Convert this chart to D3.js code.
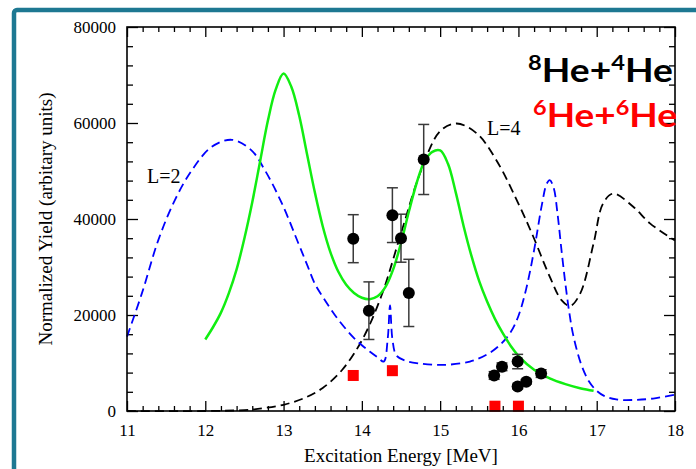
<!DOCTYPE html>
<html>
<head>
<meta charset="utf-8">
<script src="https://cdn.jsdelivr.net/npm/d3@7"></script>
<style>
  html, body { margin: 0; padding: 0; background: #fff; }
  svg { display: block; }
</style>
</head>
<body>
<svg id="chart" width="696" height="469"></svg>
<script>
// Excitation energy ticks (MeV) and yield ticks
const xTicks = [11, 12, 13, 14, 15, 16, 17, 18];
const yTicks = [0, 20000, 40000, 60000, 80000];

// Green solid fit: [energy, yield]
const fitCurve = [
  [12.0, 14900], [12.1, 17500], [12.2, 20500], [12.3, 24500], [12.4, 29500],
  [12.5, 36000], [12.6, 43500], [12.7, 52000], [12.8, 60500], [12.9, 67000],
  [13.0, 70300], [13.1, 67500], [13.2, 61500], [13.3, 53500], [13.4, 45500],
  [13.5, 38500], [13.6, 33000], [13.7, 29000], [13.8, 26300], [13.9, 24600],
  [14.0, 23600], [14.1, 23300], [14.2, 23900], [14.3, 25800], [14.4, 29500],
  [14.5, 35000], [14.6, 41500], [14.7, 47500], [14.8, 52000], [14.9, 54000],
  [15.0, 54300], [15.1, 51500], [15.2, 45500], [15.3, 38500], [15.4, 32300],
  [15.5, 27000], [15.6, 22800], [15.7, 19200], [15.8, 16200], [15.9, 13600],
  [16.0, 11500], [16.2, 8600], [16.4, 6800], [16.6, 5600], [16.8, 4700],
  [16.96, 4200]
];

// Blue dashed L=2 calculation
const l2Curve = [
  [11.00, 15500], [11.19, 24500], [11.40, 35600], [11.61, 43900], [11.83, 50200],
  [12.08, 55000], [12.34, 56500], [12.59, 54300], [12.76, 50200], [12.98, 43200],
  [13.19, 34900], [13.30, 30500], [13.40, 26500], [13.50, 23800], [13.60, 21300],
  [13.70, 19000], [13.80, 17000], [13.90, 15200], [14.00, 13700], [14.10, 12400],
  [14.20, 11200], [14.28, 10300], [14.33, 15000], [14.36, 22000], [14.39, 15000],
  [14.44, 11600], [14.55, 10500], [14.74, 9900], [15.04, 9600], [15.38, 10300],
  [15.60, 11800], [15.76, 13700], [15.90, 16400], [16.00, 19800], [16.10, 25500],
  [16.20, 33500], [16.30, 43000], [16.36, 47300], [16.40, 48100], [16.45, 46500],
  [16.50, 41000], [16.55, 33500], [16.60, 26500], [16.65, 20500], [16.70, 15800],
  [16.80, 9800], [16.90, 6200], [17.00, 4200], [17.10, 3100], [17.25, 2400],
  [17.47, 2300], [17.72, 2600], [18.00, 3400]
];

// Black dashed L=4 calculation
const l4Curve = [
  [11.00, 0], [12.00, 0], [12.50, 200], [12.75, 600], [13.00, 1300],
  [13.25, 2600], [13.50, 4800], [13.75, 8600], [14.00, 14700], [14.25, 24000],
  [14.50, 37000], [14.75, 49800], [15.00, 58300], [15.21, 59900], [15.47, 57800],
  [15.72, 52200], [16.02, 42500], [16.19, 36300], [16.40, 28000], [16.55, 23100],
  [16.66, 21900], [16.79, 24500], [16.96, 34900], [17.08, 43200], [17.21, 45300],
  [17.47, 42500], [17.68, 39100], [18.00, 35500]
];

// 8He+4He measured yields: [energy, yield, error]
const he8Points = [
  [13.89, 35900, 5000], [14.09, 20900, 6000], [14.39, 40800, 5700],
  [14.50, 36000, 5000], [14.60, 24600, 7000], [14.79, 52400, 7300],
  [15.69, 7400, 800], [15.79, 9200, 800], [15.99, 10300, 1500],
  [15.99, 5100, 500], [16.10, 6100, 500], [16.29, 7800, 800]
];

// 6He+6He measured yields: [energy, yield]
const he6Points = [
  [13.89, 7400], [14.39, 8400], [15.70, 1000], [16.00, 1000]
];

const svg = d3.select("#chart");
const plotL = 127, plotR = 675, plotT = 27, plotB = 411;

const x = d3.scaleLinear().domain([11, 18]).range([plotL, plotR]);
const y = d3.scaleLinear().domain([0, 80000]).range([plotB, plotT]);

// outer slide frame
svg.append("rect")
  .attr("x", 14).attr("y", 10)
  .attr("width", 720).attr("height", 500)
  .attr("rx", 3)
  .attr("fill", "none")
  .attr("stroke", "#1d7892")
  .attr("stroke-width", 4.5);

const serif = "'Liberation Serif', 'Times New Roman', serif";

const minorX = d3.range(11, 18.001, 0.2).map(v => +v.toFixed(1)).filter(v => !xTicks.includes(v));
const minorY = d3.range(0, 80001, 4000).filter(v => !yTicks.includes(v));

function styleAxis(g) {
  g.select(".domain").remove();
  g.selectAll(".tick line").attr("stroke", "#000").attr("stroke-width", 1.3);
  g.selectAll(".tick text")
    .attr("font-family", serif)
    .attr("font-size", 17)
    .attr("fill", "#000");
}

// bottom axis
svg.append("g").attr("transform", `translate(0,${plotB})`)
  .call(d3.axisBottom(x).tickValues(xTicks).tickSizeInner(-10).tickSizeOuter(0).tickPadding(13).tickFormat(d3.format("d")))
  .call(styleAxis);
svg.append("g").attr("transform", `translate(0,${plotB})`)
  .call(d3.axisBottom(x).tickValues(minorX).tickSizeInner(-5).tickSizeOuter(0).tickFormat(""))
  .call(styleAxis);
// top axis
svg.append("g").attr("transform", `translate(0,${plotT})`)
  .call(d3.axisTop(x).tickValues(xTicks).tickSizeInner(-10).tickSizeOuter(0).tickFormat(""))
  .call(styleAxis);
svg.append("g").attr("transform", `translate(0,${plotT})`)
  .call(d3.axisTop(x).tickValues(minorX).tickSizeInner(-5).tickSizeOuter(0).tickFormat(""))
  .call(styleAxis);
// left axis
svg.append("g").attr("transform", `translate(${plotL},0)`)
  .call(d3.axisLeft(y).tickValues(yTicks).tickSizeInner(-11).tickSizeOuter(0).tickPadding(11).tickFormat(d3.format("d")))
  .call(styleAxis);
svg.append("g").attr("transform", `translate(${plotL},0)`)
  .call(d3.axisLeft(y).tickValues(minorY).tickSizeInner(-6).tickSizeOuter(0).tickFormat(""))
  .call(styleAxis);
// right axis
svg.append("g").attr("transform", `translate(${plotR},0)`)
  .call(d3.axisRight(y).tickValues(yTicks).tickSizeInner(-11).tickSizeOuter(0).tickFormat(""))
  .call(styleAxis);
svg.append("g").attr("transform", `translate(${plotR},0)`)
  .call(d3.axisRight(y).tickValues(minorY).tickSizeInner(-6).tickSizeOuter(0).tickFormat(""))
  .call(styleAxis);

// curves
const line = d3.line().x(d => x(d[0])).y(d => y(d[1])).curve(d3.curveCatmullRom.alpha(0.5));

svg.append("path").datum(l4Curve)
  .attr("d", line).attr("fill", "none")
  .attr("stroke", "#000").attr("stroke-width", 1.8)
  .attr("stroke-dasharray", "9,5");

svg.append("path").datum(l2Curve)
  .attr("d", line).attr("fill", "none")
  .attr("stroke", "#0000ff").attr("stroke-width", 1.8)
  .attr("stroke-dasharray", "9,5");

svg.append("path").datum(fitCurve)
  .attr("d", line).attr("fill", "none")
  .attr("stroke", "#11ee11").attr("stroke-width", 2.5);

// 6He+6He squares
const sq = 11;
svg.append("g").selectAll("rect").data(he6Points).join("rect")
  .attr("x", d => x(d[0]) - sq / 2)
  .attr("y", d => y(d[1]) - sq / 2)
  .attr("width", sq).attr("height", sq)
  .attr("fill", "#ff0000");

// 8He+4He points with error bars
const eb = svg.append("g").attr("stroke", "#3a3a3a").attr("stroke-width", 1.5);
const cap = 5.5;
he8Points.forEach(d => {
  const cx = x(d[0]);
  const y1 = y(d[1] + d[2]), y2 = y(d[1] - d[2]);
  eb.append("line").attr("x1", cx).attr("x2", cx).attr("y1", y1).attr("y2", y2);
  eb.append("line").attr("x1", cx - cap).attr("x2", cx + cap).attr("y1", y1).attr("y2", y1);
  eb.append("line").attr("x1", cx - cap).attr("x2", cx + cap).attr("y1", y2).attr("y2", y2);
});
svg.append("g").selectAll("circle").data(he8Points).join("circle")
  .attr("cx", d => x(d[0])).attr("cy", d => y(d[1]))
  .attr("r", 6).attr("fill", "#000");

// plot frame
svg.append("rect")
  .attr("x", plotL).attr("y", plotT)
  .attr("width", plotR - plotL).attr("height", plotB - plotT)
  .attr("fill", "none").attr("stroke", "#000").attr("stroke-width", 1.6);

// curve labels
svg.append("text").attr("x", 147).attr("y", 183)
  .attr("font-family", serif).attr("font-size", 20).text("L=2");
svg.append("text").attr("x", 487).attr("y", 135)
  .attr("font-family", serif).attr("font-size", 20).text("L=4");

// axis titles
svg.append("text")
  .attr("x", (plotL + plotR) / 2).attr("y", 462)
  .attr("text-anchor", "middle")
  .attr("font-family", serif).attr("font-size", 19)
  .text("Excitation Energy [MeV]");
svg.append("text")
  .attr("transform", `translate(52,${(plotT + plotB) / 2}) rotate(-90)`)
  .attr("text-anchor", "middle")
  .attr("font-family", serif).attr("font-size", 19)
  .text("Normalized Yield (arbitary units)");

// reaction legend
function reaction(a, b, xPos, yPos, color, width) {
  const t = svg.append("text")
    .attr("font-family", "Lato, 'Open Sans', sans-serif")
    .attr("font-weight", "bold")
    .attr("font-size", 33)
    .attr("fill", color);
  t.append("tspan").attr("font-size", 21).attr("dy", -12).text(a);
  t.append("tspan").attr("dy", 12).text("He+");
  t.append("tspan").attr("font-size", 21).attr("dy", -12).text(b);
  t.append("tspan").attr("dy", 12).text("He");
  const w = t.node().getComputedTextLength();
  t.attr("transform", `translate(${xPos},${yPos}) scale(${width / w},1)`);
}
reaction("8", "4", 528, 82, "#000", 145);
reaction("6", "6", 533, 127, "#ff0000", 144);
</script>
</body>
</html>
